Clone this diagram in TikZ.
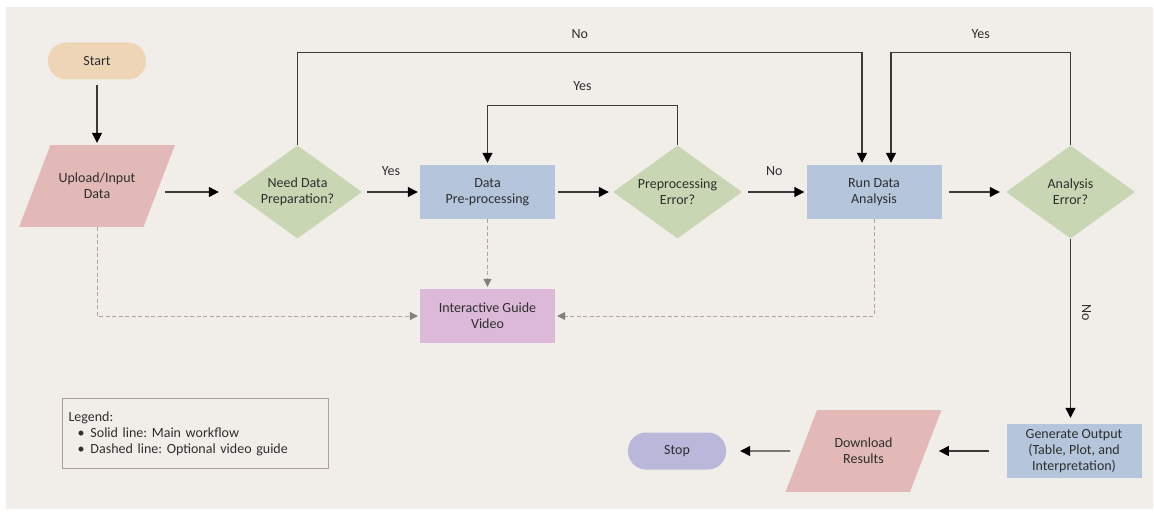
\documentclass[tikz,border=0pt]{standalone}
\usepackage{fontspec}
\setmainfont{Carlito}
\usetikzlibrary{shapes.geometric, arrows.meta}

\definecolor{bgcol}{HTML}{F1EEEA}
\definecolor{startcol}{HTML}{EED5B6}
\definecolor{iocol}{HTML}{E3B9B8}
\definecolor{deccol}{HTML}{C9D6B3}
\definecolor{proccol}{HTML}{B5C6DC}
\definecolor{guidecol}{HTML}{DCB9D8}
\definecolor{stopcol}{HTML}{B9B8DA}
\definecolor{textcol}{HTML}{2E2E2E}
\definecolor{linecol}{HTML}{3A3A3A}
\definecolor{dashcol}{HTML}{B3A2A2}
\definecolor{legendcol}{HTML}{A89E9E}

\begin{document}
\frenchspacing
\begin{tikzpicture}[x=1pt, y=-1pt,
    every node/.style={font=\fontsize{14}{16}\selectfont, text=textcol, inner sep=0pt, align=center},
    terminal/.style={rectangle, rounded corners=18pt, minimum width=98pt, minimum height=37pt},
    process/.style={rectangle, fill=proccol, minimum width=135pt, minimum height=54pt},
    decision/.style={diamond, aspect=1.39, fill=deccol, minimum width=129pt, minimum height=93pt},
    io/.style={trapezium, trapezium left angle=69, trapezium right angle=111,
        fill=iocol, text width=85pt, inner xsep=4pt, inner ysep=28pt},
    flow/.style={draw=linecol, line width=1.2pt, -{Triangle[length=10pt, width=10pt, color=black]}},
    guide/.style={draw=dashcol, line width=1pt, dash pattern=on 4pt off 2.5pt,
        -{Triangle[length=8pt, width=8pt, color=gray]}}]

        % page and background
        \fill[white] (0,0) rectangle (1154,516);
        \fill[bgcol] (6,7) rectangle (1153,509);
        \useasboundingbox (0,0) rectangle (1154,516);

        % main row
        \node[terminal, fill=startcol] (start) at (97,61) {Start};
        \node[io] (upload) at (97,186) {Upload/Input\\Data};
        \node[decision] (needprep) at (297.5,192) {Need Data\\Preparation?};
        \node[process] (prep) at (487.5,192) {Data\\Pre-processing};
        \node[decision] (preperr) at (677.5,192) {Preprocessing\\Error?};
        \node[process] (analysis) at (874,192) {Run Data\\Analysis};
        \node[decision] (anaerr) at (1070.5,192) {Analysis\\Error?};
        \node[process, fill=guidecol] (guide) at (487.5,316) {Interactive Guide\\Video};

        % bottom row
        \node[process] (output) at (1074,451) {Generate Output\\(Table, Plot, and\\Interpretation)};
        \node[io] (download) at (863.5,451) {Download\\Results};
        \node[terminal, fill=stopcol] (stop) at (677,451) {Stop};

        \node[draw=legendcol, line width=1pt, anchor=north west, text width=254pt, inner sep=6pt,
            minimum height=70pt, align=left] (legend) at (62,398)
            {Legend:\\
             \hspace*{9pt}\textbullet\hspace{6pt}Solid line: Main workflow\\
             \hspace*{9pt}\textbullet\hspace{6pt}Dashed line: Optional video guide};

        % main workflow
        \draw[flow, shorten <=5pt, shorten >=2pt] (start) -- (upload);
        \draw[flow, shorten <=6pt, shorten >=14pt] (upload.east |- needprep) -- (needprep);
        \draw[flow, shorten <=5pt, shorten >=2pt] (needprep) -- node[above=16pt] {Yes} (prep);
        \draw[flow, shorten <=3pt, shorten >=4pt] (prep) -- (preperr);
        \draw[flow, shorten <=6pt, shorten >=2pt] (preperr) -- node[above=16pt] {No} (analysis);
        \draw[flow, shorten <=7pt, shorten >=6pt] (analysis) -- (anaerr);
        \draw[flow, shorten >=6pt] (anaerr.south) -- node[pos=0.4, right=11pt] {\rotatebox{-90}{No}}
            (anaerr.south |- output.north);
        \draw[flow, shorten <=17pt, shorten >=13pt] (output) -- (download);
        \draw[flow, shorten <=11pt, shorten >=14pt] (download) -- (stop);

        % loops back
        \draw[flow, shorten >=2pt] (needprep.north) -- ++(0,-93)
            -| node[pos=0.25, above=13pt] {No} ([xshift=-12pt]analysis.north);
        \draw[flow, shorten >=2pt] (preperr.north) -- ++(0,-40)
            -| node[pos=0.25, above=14pt] {Yes} (prep.north);
        \draw[flow, shorten >=2pt] (anaerr.north) -- ++(0,-93)
            -| node[pos=0.25, above=13pt] {Yes} ([xshift=17pt]analysis.north);

        % optional video guide
        \draw[guide, shorten >=2pt] (upload.center |- upload.south) |- (guide.west);
        \draw[guide, shorten >=2pt] (prep) -- (guide);
        \draw[guide, shorten >=2pt] (analysis.south) |- (guide.east);

    \end{tikzpicture}
\end{document}
